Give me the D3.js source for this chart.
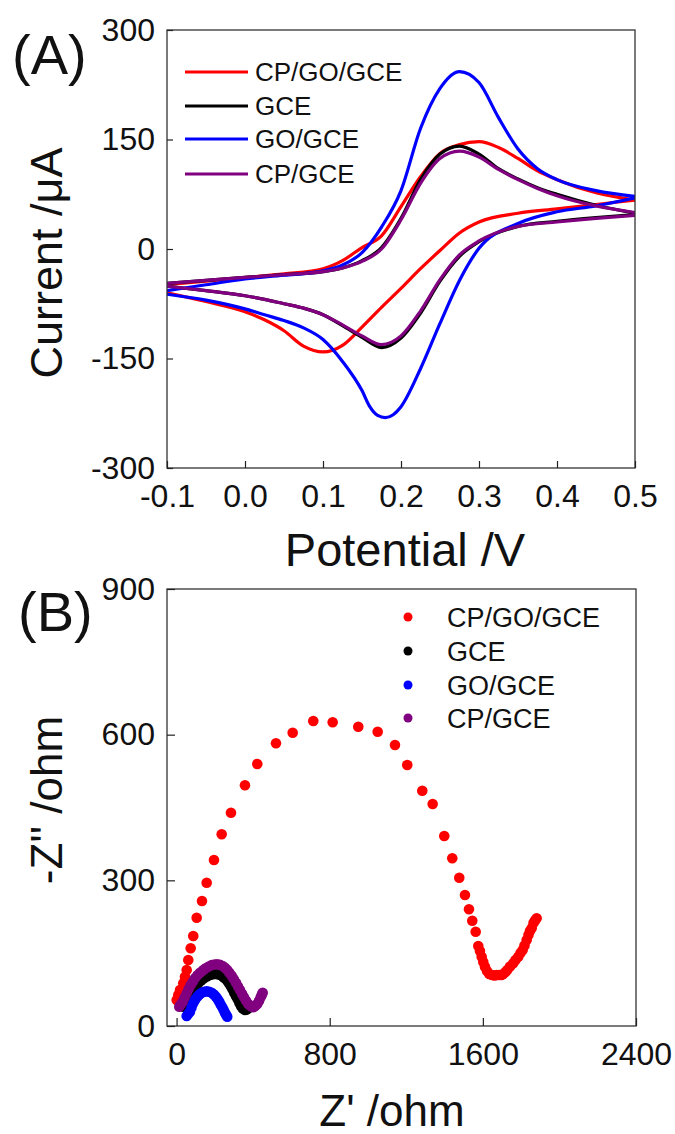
<!DOCTYPE html>
<html>
<head>
<meta charset="utf-8">
<script src="https://cdn.jsdelivr.net/npm/d3@7"></script>
<style>
  html, body { margin: 0; padding: 0; background: #fff; }
  svg { display: block; }
  text { font-family: "Liberation Sans", Arial, sans-serif; fill: #111; }
</style>
</head>
<body>
<svg id="fig" width="675" height="1134"></svg>
<script>
// ---------- (A) cyclic voltammograms ----------
const seriesNames = ["CP/GO/GCE", "GCE", "GO/GCE", "CP/GCE"];
const seriesColors = ["#ff0000", "#000000", "#0000ff", "#800080"];

// anodic (forward) scan potentials, V
const forwardE = [-0.1, -0.05, 0.0, 0.05, 0.1, 0.125, 0.15, 0.175, 0.2, 0.225, 0.25, 0.275, 0.3, 0.325, 0.35, 0.375, 0.4, 0.45, 0.5];
// cathodic (reverse) scan potentials, V
const reverseE = [0.5, 0.45, 0.4, 0.35, 0.3, 0.275, 0.25, 0.225, 0.2, 0.175, 0.15, 0.125, 0.1, 0.075, 0.05, 0.025, 0.0, -0.05, -0.1];
// GO/GCE reverse scan is sampled more finely around its sharp cathodic peak
const goReverseE = [0.5, 0.45, 0.4, 0.35, 0.3, 0.275, 0.25, 0.225, 0.2, 0.19, 0.18, 0.17, 0.16, 0.15, 0.125, 0.1, 0.075, 0.05, 0.025, 0.0, -0.05, -0.1];

// currents, µA
const cpGoForwardI = [-49, -44, -39, -34, -27, -16, 2, 18, 58, 99, 131, 143, 147, 139, 124, 107, 95, 77, 67];
const cpGoReverseI = [67, 61, 55, 49, 37, 22, -2, -27, -54, -80, -107, -132, -141, -133, -112, -97, -86, -72, -60];
const gceForwardI = [-47, -43, -39, -35, -31, -26, -16, 2, 42, 95, 130, 141, 130, 110, 96, 84, 75, 60, 49];
const gceReverseI = [47, 43, 38, 31, 10, -10, -44, -88, -122, -135, -121, -105, -90, -81, -75, -69, -64, -57, -51];
const goForwardI = [-57, -49, -41, -36, -30, -22, -5, 30, 80, 165, 220, 243, 228, 180, 137, 110, 95, 80, 72];
const goReverseI = [70, 59, 51, 35, 1, -43, -102, -164, -216, -227, -231, -228, -216, -194, -154, -124, -108, -98, -90, -82, -70, -62];
const cpForwardI = [-47, -43, -39, -35, -31, -26, -17, 0, 40, 90, 124, 134, 126, 109, 95, 83, 73, 59, 50];
const cpReverseI = [46, 42, 37, 31, 11, -8, -42, -85, -119, -131, -119, -104, -90, -81, -75, -69, -64, -57, -51];

const cvForwardE = [forwardE, forwardE, forwardE, forwardE];
const cvReverseE = [reverseE, reverseE, goReverseE, reverseE];
const cvForward = [cpGoForwardI, gceForwardI, goForwardI, cpForwardI];
const cvReverse = [cpGoReverseI, gceReverseI, goReverseI, cpReverseI];

const cvXTicks = [-0.1, 0.0, 0.1, 0.2, 0.3, 0.4, 0.5];
const cvXTickLabels = ["-0.1", "0.0", "0.1", "0.2", "0.3", "0.4", "0.5"];
const cvYTicks = [-300, -150, 0, 150, 300];
const cvYTickLabels = ["-300", "-150", "0", "150", "300"];

// ---------- (B) Nyquist plots ----------
const cpGoZre = [0.5, 8.9, 17.8, 35, 43.9, 52.8, 61.1, 73.7, 87.2, 105, 132.7, 157.2, 195.4, 235.6, 284.2, 357.3, 421.6, 519.3, 606.5, 714.1, 815.4, 949.2, 1050.5, 1140.9, 1205.1, 1283.5, 1337.8, 1398.4, 1440.2, 1476.8, 1506.6, 1527.5, 1544.7, 1562.5, 1576.1, 1584.9, 1593.8, 1602.2, 1611, 1621.5, 1633.5, 1647.6, 1660.7, 1672.2, 1684.2, 1697.3, 1706.7, 1718.2, 1727.6, 1741.7, 1758.9, 1770.4, 1785, 1796.5, 1808, 1817.4, 1828.9, 1838.3, 1846.1, 1855, 1864.4, 1872.2, 1881.1];
const cpGoZim = [53.5, 63.8, 74.1, 87.9, 101.5, 115.3, 135.9, 160, 185.4, 223, 257.4, 295.1, 341.9, 394.8, 439.3, 495.7, 539.6, 582.2, 604, 628.1, 625.5, 616.4, 606.1, 578.7, 537.5, 484.6, 457.2, 391.3, 345.4, 305.4, 269.8, 240.3, 216.9, 194.2, 164.8, 154.5, 142.7, 131.8, 122.1, 113.3, 107.1, 105, 104, 105, 105, 105, 107.1, 111.2, 115.3, 122.5, 129.1, 135.9, 142.7, 150.3, 156.5, 165.8, 177.1, 187.4, 195.6, 201.2, 212.1, 217.3, 221.8];

const gceZre = [35, 48, 61.1, 74, 87.2, 100, 113.4, 128, 143.1, 158, 174.5, 190, 206.9, 221, 235.6, 248, 261.7, 272, 282.6, 292, 301.4, 310, 319.2, 328, 336.4, 346, 357.3, 366, 374.5];
const gceZim = [39.7, 48, 57, 66, 74.1, 81, 87.9, 93.5, 98.2, 102, 105, 106.5, 107.1, 106, 103.6, 99.5, 94.7, 89, 82.4, 75.5, 68.6, 62, 55, 48, 41.2, 36, 33, 34, 36.5];

const goZre = [52.8, 61, 70, 78, 87.2, 97, 108.1, 119, 131.1, 144, 157.2, 170, 183.4, 195, 205.8, 215, 223.1, 231, 238.7, 246, 252.8, 259, 264.8];
const goZim = [20.6, 25, 29.5, 38, 46.7, 54, 60.3, 65, 68.6, 70.5, 71.5, 70.5, 68.6, 65, 60.3, 55, 50, 44, 38.5, 33, 27.4, 23, 19.2];

const cpZre = [14.1, 22, 31.9, 42, 52.8, 63, 73.7, 85, 96.1, 109, 122.2, 137, 152, 168, 183.4, 198, 212.6, 227, 240.8, 253, 264.8, 276, 287.8, 299, 310.3, 321, 331.2, 342, 352.1, 363, 374.5, 387, 400.7, 411, 421.6, 431, 439.3, 445, 449.8];
const cpZim = [39.7, 44.5, 50, 58.5, 67.3, 76, 84.4, 91.5, 98.2, 104.5, 109.8, 114.5, 118.8, 122.5, 125.6, 126.8, 127.1, 125.8, 123.6, 120, 115.3, 109.5, 103.6, 96.5, 89.2, 81.5, 74.1, 66.5, 59.1, 52, 45.3, 41, 38.5, 41, 45.3, 52, 59.1, 64, 68.6];

const eisZre = [cpGoZre, gceZre, goZre, cpZre];
const eisZim = [cpGoZim, gceZim, goZim, cpZim];

const eisXTicks = [0, 800, 1600, 2400];
const eisXTickLabels = ["0", "800", "1600", "2400"];
const eisYTicks = [0, 300, 600, 900];
const eisYTickLabels = ["0", "300", "600", "900"];

// ---------- drawing ----------
const svg = d3.select("#fig");
const axisColor = "#222";

function frame(g, x, y) {
  const [x0, x1] = x.range();
  const [y0, y1] = y.range();
  g.append("rect")
    .attr("x", x0).attr("y", y1)
    .attr("width", x1 - x0).attr("height", y0 - y1)
    .attr("fill", "none").attr("stroke", "#333").attr("stroke-width", 1.3);
}

function styleAxis(sel, fontSize) {
  sel.select(".domain").remove();
  sel.selectAll(".tick line").attr("stroke", axisColor).attr("stroke-width", 1.2);
  sel.selectAll(".tick text")
    .attr("fill", "#111")
    .style("font-family", '"Liberation Sans", Arial, sans-serif')
    .style("font-size", fontSize + "px");
}

// ----- panel A -----
const xA = d3.scaleLinear().domain([-0.1, 0.5]).range([167, 635]);
const yA = d3.scaleLinear().domain([-300, 300]).range([468, 30]);
const gA = svg.append("g");

svg.append("defs").append("clipPath").attr("id", "clipA")
  .append("rect").attr("x", 167).attr("y", 30).attr("width", 468).attr("height", 438);

const lineA = d3.line()
  .x(d => xA(d[0])).y(d => yA(d[1]))
  .curve(d3.curveMonotoneX);

const cvLayer = gA.append("g").attr("clip-path", "url(#clipA)");
seriesNames.forEach((name, i) => {
  const fwd = cvForwardE[i].map((e, k) => [e, cvForward[i][k]]);
  const rev = cvReverseE[i].map((e, k) => [e, cvReverse[i][k]]);
  [fwd, rev].forEach(branch => {
    const ordered = branch.slice().sort((a, b) => a[0] - b[0]);
    cvLayer.append("path")
      .datum(ordered)
      .attr("d", lineA)
      .attr("fill", "none")
      .attr("stroke", seriesColors[i])
      .attr("stroke-width", 3.2)
      .attr("stroke-linejoin", "round")
      .attr("stroke-linecap", "round");
  });
});

frame(gA, xA, yA);

gA.append("g").attr("transform", "translate(0,468)")
  .call(d3.axisBottom(xA).tickValues(cvXTicks)
    .tickFormat((d, i) => cvXTickLabels[i]).tickSize(-7).tickPadding(10))
  .call(s => styleAxis(s, 32))
  .selectAll(".tick text").attr("dy", "0.92em");

gA.append("g").attr("transform", "translate(167,0)")
  .call(d3.axisLeft(yA).tickValues(cvYTicks)
    .tickFormat((d, i) => cvYTickLabels[i]).tickSize(-6).tickPadding(12))
  .call(s => styleAxis(s, 32));

gA.append("text")
  .attr("x", 405).attr("y", 566)
  .attr("text-anchor", "middle")
  .style("font-size", "47px")
  .text("Potential /V");

gA.append("text")
  .attr("transform", "translate(62,263) rotate(-90)")
  .attr("text-anchor", "middle")
  .style("font-size", "45px")
  .text("Current /\u03BCA");

gA.append("text")
  .attr("x", 12).attr("y", 74)
  .style("font-size", "56px")
  .text("(A)");

// legend A
const legA = gA.append("g");
const legARows = [72, 106, 139, 174];
seriesNames.forEach((name, i) => {
  legA.append("line")
    .attr("x1", 185).attr("x2", 248)
    .attr("y1", legARows[i]).attr("y2", legARows[i])
    .attr("stroke", seriesColors[i]).attr("stroke-width", 3.2);
  legA.append("text")
    .attr("x", 255).attr("y", legARows[i]).attr("dy", "0.36em")
    .style("font-size", "26px")
    .text(name);
});

// ----- panel B -----
const xB = d3.scaleLinear().domain([-50, 2400]).range([167, 636]);
const yB = d3.scaleLinear().domain([0, 900]).range([1026, 589]);
const gB = svg.append("g");

seriesNames.forEach((name, i) => {
  gB.append("g").selectAll("circle")
    .data(eisZre[i].map((z, k) => [z, eisZim[i][k]]))
    .join("circle")
    .attr("cx", d => xB(d[0]))
    .attr("cy", d => yB(d[1]))
    .attr("r", 5.3)
    .attr("fill", seriesColors[i]);
});

frame(gB, xB, yB);

gB.append("g").attr("transform", "translate(0,1026)")
  .call(d3.axisBottom(xB).tickValues(eisXTicks)
    .tickFormat((d, i) => eisXTickLabels[i]).tickSize(-8).tickPadding(10))
  .call(s => styleAxis(s, 32))
  .selectAll(".tick text").attr("dy", "0.92em");

gB.append("g").attr("transform", "translate(167,0)")
  .call(d3.axisLeft(yB).tickValues(eisYTicks)
    .tickFormat((d, i) => eisYTickLabels[i]).tickSize(-8).tickPadding(12))
  .call(s => styleAxis(s, 32));

gB.append("text")
  .attr("x", 392).attr("y", 1126)
  .attr("text-anchor", "middle")
  .style("font-size", "44px")
  .text("Z' /ohm");

gB.append("text")
  .attr("transform", "translate(62,800) rotate(-90)")
  .attr("text-anchor", "middle")
  .style("font-size", "44px")
  .text("-Z'' /ohm");

gB.append("text")
  .attr("x", 18).attr("y", 631)
  .style("font-size", "56px")
  .text("(B)");

// legend B
const legB = gB.append("g");
const legBRows = [617, 651, 685, 718];
seriesNames.forEach((name, i) => {
  legB.append("circle")
    .attr("cx", 408).attr("cy", legBRows[i]).attr("r", 4.5)
    .attr("fill", seriesColors[i]);
  legB.append("text")
    .attr("x", 447).attr("y", legBRows[i]).attr("dy", "0.36em")
    .style("font-size", "27px")
    .text(name);
});
</script>
</body>
</html>
